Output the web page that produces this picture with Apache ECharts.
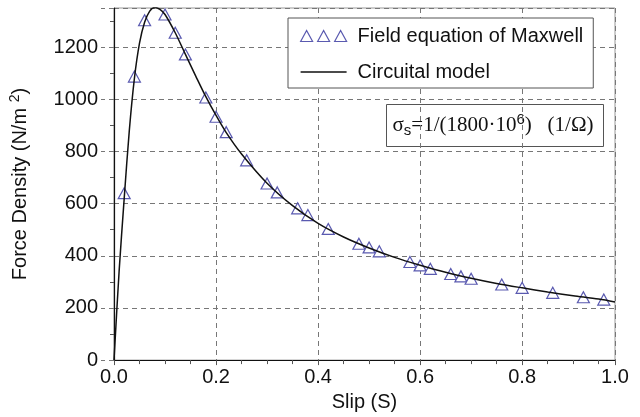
<!DOCTYPE html>
<html>
<head>
<meta charset="utf-8">
<script src="https://cdn.jsdelivr.net/npm/echarts/dist/echarts.min.js"></script>
<style>
  html, body { margin: 0; padding: 0; background: #fff; }
  #chart { width: 640px; height: 417px; }
</style>
</head>
<body>
<div id="chart"></div>
<script>
// Field equation of Maxwell (triangles)
const maxwellSlip = [0.02, 0.04, 0.06, 0.10, 0.12, 0.14, 0.18, 0.20, 0.22, 0.26, 0.30, 0.32, 0.36, 0.38, 0.42,
  0.48, 0.50, 0.52, 0.58, 0.60, 0.62, 0.66, 0.68, 0.70, 0.76, 0.80, 0.86, 0.92, 0.96];
const maxwellForce = [640, 1087, 1303, 1325, 1255, 1172, 1007, 933, 874, 766, 677, 643, 582, 556, 503,
  446, 432, 417, 376, 363, 350, 330, 321, 312, 290, 277, 258, 241, 232];

// Circuital model (solid line)
const circuitSlip = [0, 0.01, 0.02, 0.03, 0.04, 0.05, 0.06, 0.07, 0.08, 0.09, 0.10, 0.12, 0.14, 0.16, 0.18,
  0.20, 0.22, 0.25, 0.30, 0.35, 0.40, 0.45, 0.50, 0.55, 0.60, 0.65, 0.70, 0.75, 0.80, 0.85, 0.90, 0.95, 0.982];
const circuitForce = [0, 340, 620, 880, 1080, 1215, 1295, 1338, 1352, 1345, 1325, 1255, 1172, 1090, 1010,
  938, 872, 790, 678, 592, 524, 472, 430, 394, 364, 337, 314, 294, 277, 261, 247, 234, 223];

const seriesNames = ['Field equation of Maxwell', 'Circuital model'];

const FONT = 'Liberation Sans';
const TRI = '#5a5ab0';

const chart = echarts.init(document.getElementById('chart'));

chart.setOption({
  animation: false,
  textStyle: { fontFamily: FONT, color: '#111' },
  grid: {
    left: 113, right: 25, top: 8, bottom: 54,
    show: true, borderColor: '#999', borderWidth: 1
  },
  legend: {
    orient: 'vertical',
    left: 288, top: 18,
    padding: [8, 10, 6, 12],
    itemGap: 16,
    itemWidth: 46, itemHeight: 12,
    backgroundColor: '#fff',
    borderColor: '#555', borderWidth: 1,
    textStyle: { fontSize: 20, color: '#111', padding: [0, 0, 0, 6] },
    data: [
      {
        name: seriesNames[0],
        icon: 'path://M0,11L6,0L12,11Z M17,11L23,0L29,11Z M34,11L40,0L46,11Z',
        itemStyle: { color: 'rgba(0,0,0,0)', borderColor: TRI, borderWidth: 1.2 }
      },
      {
        name: seriesNames[1],
        // thin bar inside a 46x12 box (corner points keep the box size)
        icon: 'path://M0,0L0.01,0L0.01,0.01Z M0,5.2L46,5.2L46,6.8L0,6.8Z M45.99,11.99L46,11.99L46,12Z',
        itemStyle: { color: '#111', borderWidth: 0 }
      }
    ]
  },
  xAxis: {
    type: 'value',
    min: 0, max: 0.982, interval: 0.2,
    name: 'Slip (S)',
    nameLocation: 'middle',
    nameGap: 28,
    nameTextStyle: { fontSize: 20, color: '#111' },
    axisLine: { lineStyle: { color: '#111', width: 1.2 } },
    axisTick: { show: true, length: 5, lineStyle: { color: '#555' } },
    minorTick: { show: true, splitNumber: 4, length: 4, lineStyle: { color: '#555' } },
    axisLabel: {
      fontSize: 20, color: '#111', margin: 7, showMaxLabel: true,
      formatter: v => (v > 0.9 ? '1.0' : v.toFixed(1))
    },
    splitLine: { show: true, lineStyle: { color: '#777', type: [5, 4] } }
  },
  yAxis: {
    type: 'value',
    min: 0, max: 1350, interval: 200,
    name: '{a|Force Density (N/m }{sup|2}{a|)}',
    nameLocation: 'middle',
    nameRotate: 90,
    nameGap: 82,
    nameTextStyle: {
      rich: {
        a: { fontSize: 20, fontFamily: FONT, color: '#111' },
        sup: { fontSize: 14, fontFamily: FONT, color: '#111', padding: [0, 0, 10, 0] }
      }
    },
    axisLine: { show: true, lineStyle: { color: '#111', width: 1.2 } },
    axisTick: { show: true, length: 13, lineStyle: { color: '#777', type: [5, 4] } },
    minorTick: { show: true, splitNumber: 2, length: 4, lineStyle: { color: '#555' } },
    axisLabel: { fontSize: 20, color: '#111', margin: 16, showMaxLabel: false, formatter: v => String(v) },
    splitLine: { show: true, lineStyle: { color: '#777', type: [5, 4] } }
  },
  graphic: [
    {
      type: 'group',
      left: 386, top: 104,
      children: [
        {
          type: 'rect',
          shape: { x: 0, y: 0, width: 217, height: 42 },
          style: { fill: '#fff', stroke: '#555', lineWidth: 1 }
        },
        {
          type: 'text',
          x: 6, y: 21,
          style: {
            text: '{t|σ}{sub|s}{t|=1/(1800·10}{sup|6}{t|)   (1/Ω)}',
            verticalAlign: 'middle',
            rich: {
              t: { fontFamily: 'Liberation Serif', fontSize: 21, fill: '#111' },
              sub: { fontFamily: FONT, fontSize: 15, fill: '#111', padding: [10, 0, 0, 0] },
              sup: { fontFamily: FONT, fontSize: 15, fill: '#111', padding: [0, 0, 12, 0] }
            }
          }
        }
      ]
    }
  ],
  series: [
    {
      name: seriesNames[0],
      type: 'scatter',
      symbol: 'triangle',
      symbolSize: [12, 11],
      itemStyle: { color: '#fff', borderColor: TRI, borderWidth: 1.2, opacity: 1 },
      data: maxwellSlip.map((s, i) => [s, maxwellForce[i]]),
      z: 3
    },
    {
      name: seriesNames[1],
      type: 'line',
      symbol: 'none',
      smooth: 0.3,
      lineStyle: { color: '#111', width: 1.5 },
      itemStyle: { color: '#111' },
      data: circuitSlip.map((s, i) => [s, circuitForce[i]]),
      z: 4
    }
  ]
});
</script>
</body>
</html>
